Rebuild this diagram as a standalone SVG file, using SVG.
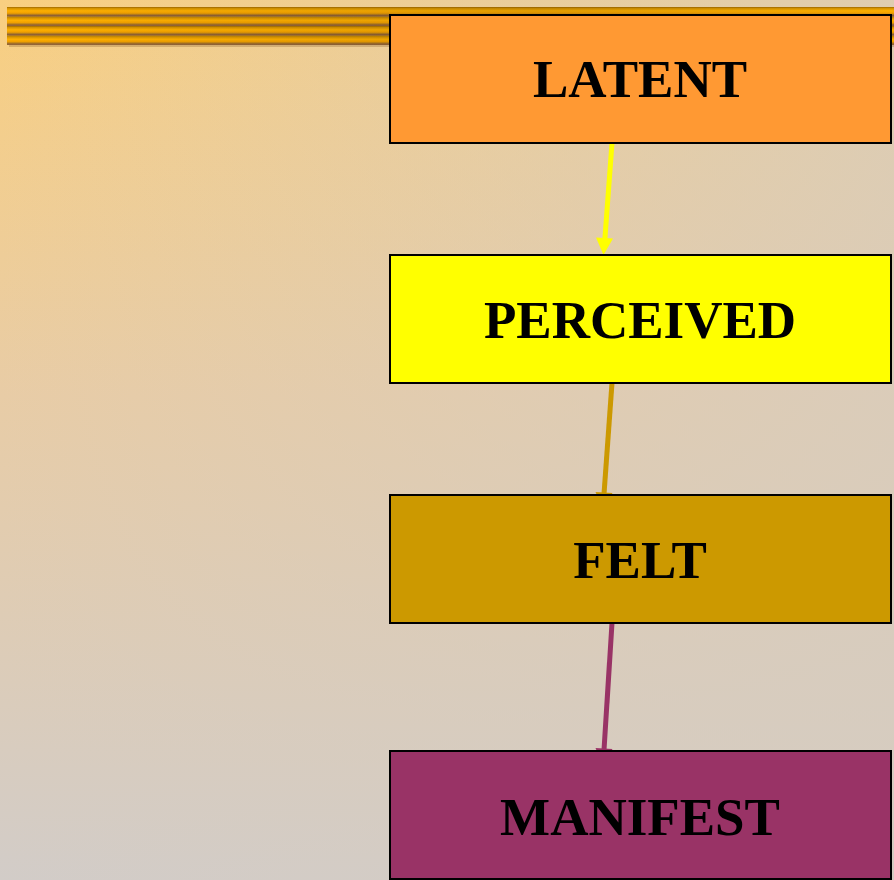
<svg xmlns="http://www.w3.org/2000/svg" width="894" height="880" viewBox="0 0 894 880">
<defs>
<linearGradient id="bgV" x1="0" y1="0" x2="0" y2="1">
<stop offset="0" stop-color="#F9CF80"/>
<stop offset="0.45" stop-color="#E8CCA6"/>
<stop offset="1" stop-color="#D2CCC8"/>
</linearGradient>
<linearGradient id="bgH" x1="0" y1="0" x2="1" y2="0">
<stop offset="0" stop-color="#D6CCC0" stop-opacity="0"/>
<stop offset="1" stop-color="#D6CCC0" stop-opacity="0.75"/>
</linearGradient>
<linearGradient id="stripe" x1="0" y1="0" x2="0" y2="1">
<stop offset="0" stop-color="#9A6400"/>
<stop offset="0.12" stop-color="#D09000"/>
<stop offset="0.4" stop-color="#FFB000"/>
<stop offset="0.65" stop-color="#F0A000"/>
<stop offset="0.8" stop-color="#B07A20"/>
<stop offset="0.9" stop-color="#8E6034"/>
<stop offset="1" stop-color="#9A6A3A"/>
</linearGradient>
<linearGradient id="barShade" x1="0" y1="0" x2="1" y2="0">
<stop offset="0" stop-color="#000" stop-opacity="0"/>
<stop offset="0.6" stop-color="#000" stop-opacity="0.1"/>
<stop offset="1" stop-color="#000" stop-opacity="0"/>
</linearGradient>
</defs>
<style>
.box{stroke:#000;stroke-width:2}
.lbl{font-family:"Liberation Serif","Times New Roman",serif;font-weight:bold;font-size:53px;fill:#000;text-anchor:middle}
.conn{fill:none;stroke-width:5}
</style>
<rect x="0" y="0" width="894" height="880" fill="url(#bgV)"/>
<rect x="0" y="0" width="894" height="880" fill="url(#bgH)"/>
<g id="topbar">
<rect x="9" y="9" width="885" height="38" fill="#8A6030" opacity="0.3"/>
<rect x="7" y="7" width="887" height="9.5" fill="url(#stripe)"/>
<rect x="7" y="16.5" width="887" height="9.5" fill="url(#stripe)"/>
<rect x="7" y="26" width="887" height="9.5" fill="url(#stripe)"/>
<rect x="7" y="35.5" width="887" height="9.5" fill="url(#stripe)"/>
<rect x="7" y="7" width="887" height="38" fill="url(#barShade)"/>
</g>
<g id="connectors">
<line class="conn" x1="612" y1="143" x2="604.8" y2="240" stroke="#FFFF00"/>
<polygon points="596,237.5 613,238.5 603.5,255" fill="#FFFF00"/>
<line class="conn" x1="612" y1="383" x2="604" y2="494" stroke="#CC9900"/>
<polygon points="595.5,492 612.5,493 603,509" fill="#CC9900"/>
<line class="conn" x1="612" y1="623" x2="604" y2="750" stroke="#993366"/>
<polygon points="595.5,748 612.5,749 603,765" fill="#993366"/>
</g>
<g id="latent">
<rect class="box" x="390" y="15" width="501" height="128" fill="#FF9933"/>
<text class="lbl" x="640" y="97">LATENT</text>
</g>
<g id="perceived">
<rect class="box" x="390" y="255" width="501" height="128" fill="#FFFF00"/>
<text class="lbl" x="640" y="338">PERCEIVED</text>
</g>
<g id="felt">
<rect class="box" x="390" y="495" width="501" height="128" fill="#CC9900"/>
<text class="lbl" x="640" y="578">FELT</text>
</g>
<g id="manifest">
<rect class="box" x="390" y="751" width="501" height="128" fill="#993366"/>
<text class="lbl" x="640" y="835">MANIFEST</text>
</g>
</svg>
